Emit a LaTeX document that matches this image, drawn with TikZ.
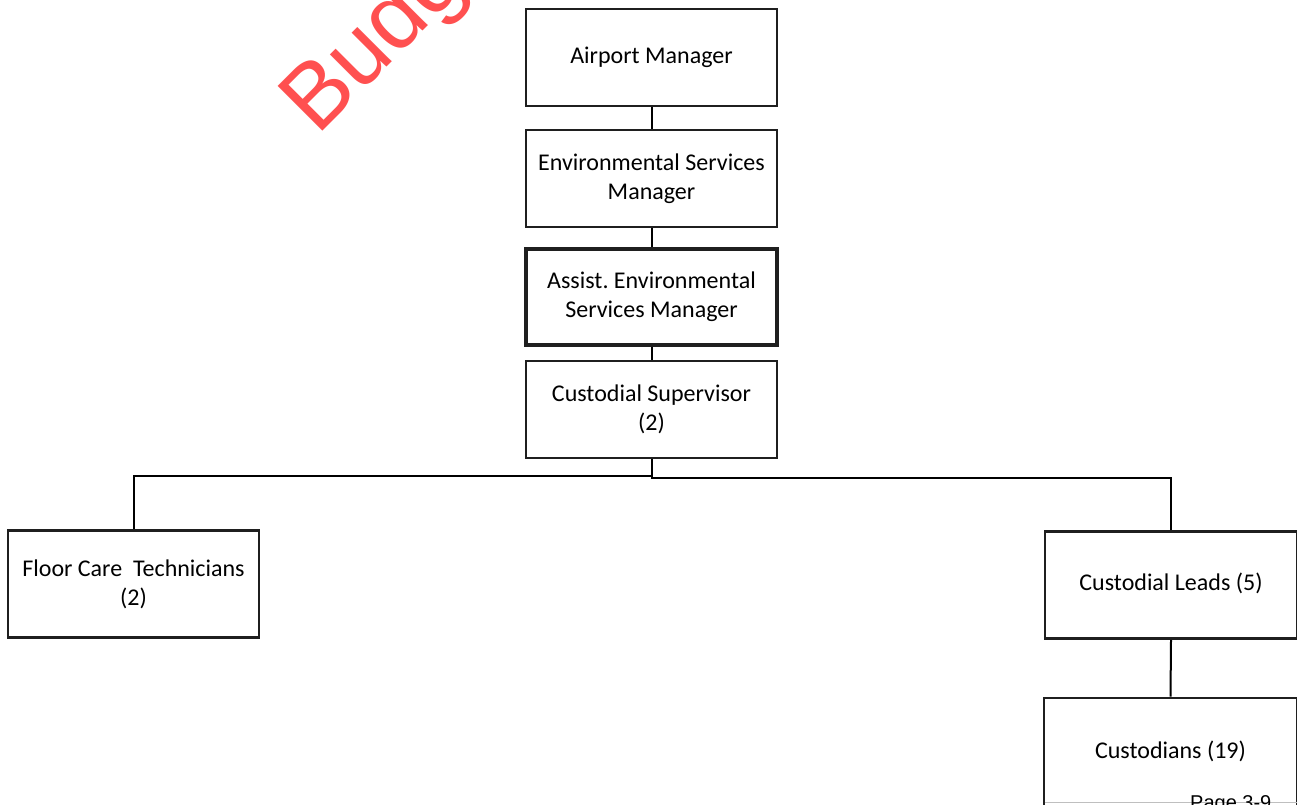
\documentclass[tikz,border=0pt]{standalone}
\usepackage{fontspec}
\setmainfont{Carlito}
\newfontfamily\wmfont{Liberation Sans}
\definecolor{wmred}{RGB}{255,80,80}
\frenchspacing
\begin{document}
\begin{tikzpicture}[x=1pt,y=-1pt,
  orgbox/.style={draw=black!88, line width=2.8pt, minimum width=251pt, minimum height=97pt,
    align=center, inner sep=0pt, font=\fontsize{24}{29}\selectfont},
  link/.style={draw=black, line width=2pt}]
\useasboundingbox (0,0) rectangle (1297,804);
\clip (0,0) rectangle (1297,804);
\fill[white] (0,0) rectangle (1297,804);

% watermark
\node[anchor=base west, rotate=45, text=wmred, inner sep=0pt,
  font=\wmfont\fontsize{92}{92}\selectfont] (wm) at (317,137) {Budg};

% boxes
\node[orgbox] (am) at (651.5,57.5) {\strut Airport Manager};
\node[orgbox] (esm) at (651.5,178.5) {Environmental Services\\Manager};
\node[orgbox, line width=3.1pt, minimum height=96pt] (aesm) at (651.5,297) {Assist. Environmental\\Services Manager};
\node[orgbox] (cs) at (651.5,409.5) {Custodial Supervisor\\(2)};
\node[orgbox, minimum height=107pt] (fct) at (133.5,584) {Floor Care\ \ Technicians\\(2)};
\node[orgbox, minimum width=252pt, minimum height=107pt] (cl) at (1171,585) {\strut Custodial Leads (5)};
\node[orgbox, minimum width=253pt, minimum height=110pt] (cu) at (1170.5,753) {\strut Custodians (19)};

% connectors
\draw[link] (am.south) -- (esm.north);
\draw[link] (esm.south) -- (aesm.north);
\draw[link] (aesm.south) -- (cs.north);
\coordinate (jl) at (651.5,476);
\coordinate (jr) at (651.5,477.5);
\draw[link] (cs.south) -- (jl) -| (fct.north);
\draw[link] (cs.south) -- (jr) -| (cl.north);
\draw[link] (cl.south) -- (cu.north);

% page footer
\draw[black!25, line width=0.8pt] ([xshift=2pt]cu.west |- 0,802.5) -- (1297,802.5);
\node[anchor=base west, inner sep=0pt, font=\wmfont\fontsize{20}{20}\selectfont] (pg) at (1190,809) {Page 3-9};
\end{tikzpicture}
\end{document}
